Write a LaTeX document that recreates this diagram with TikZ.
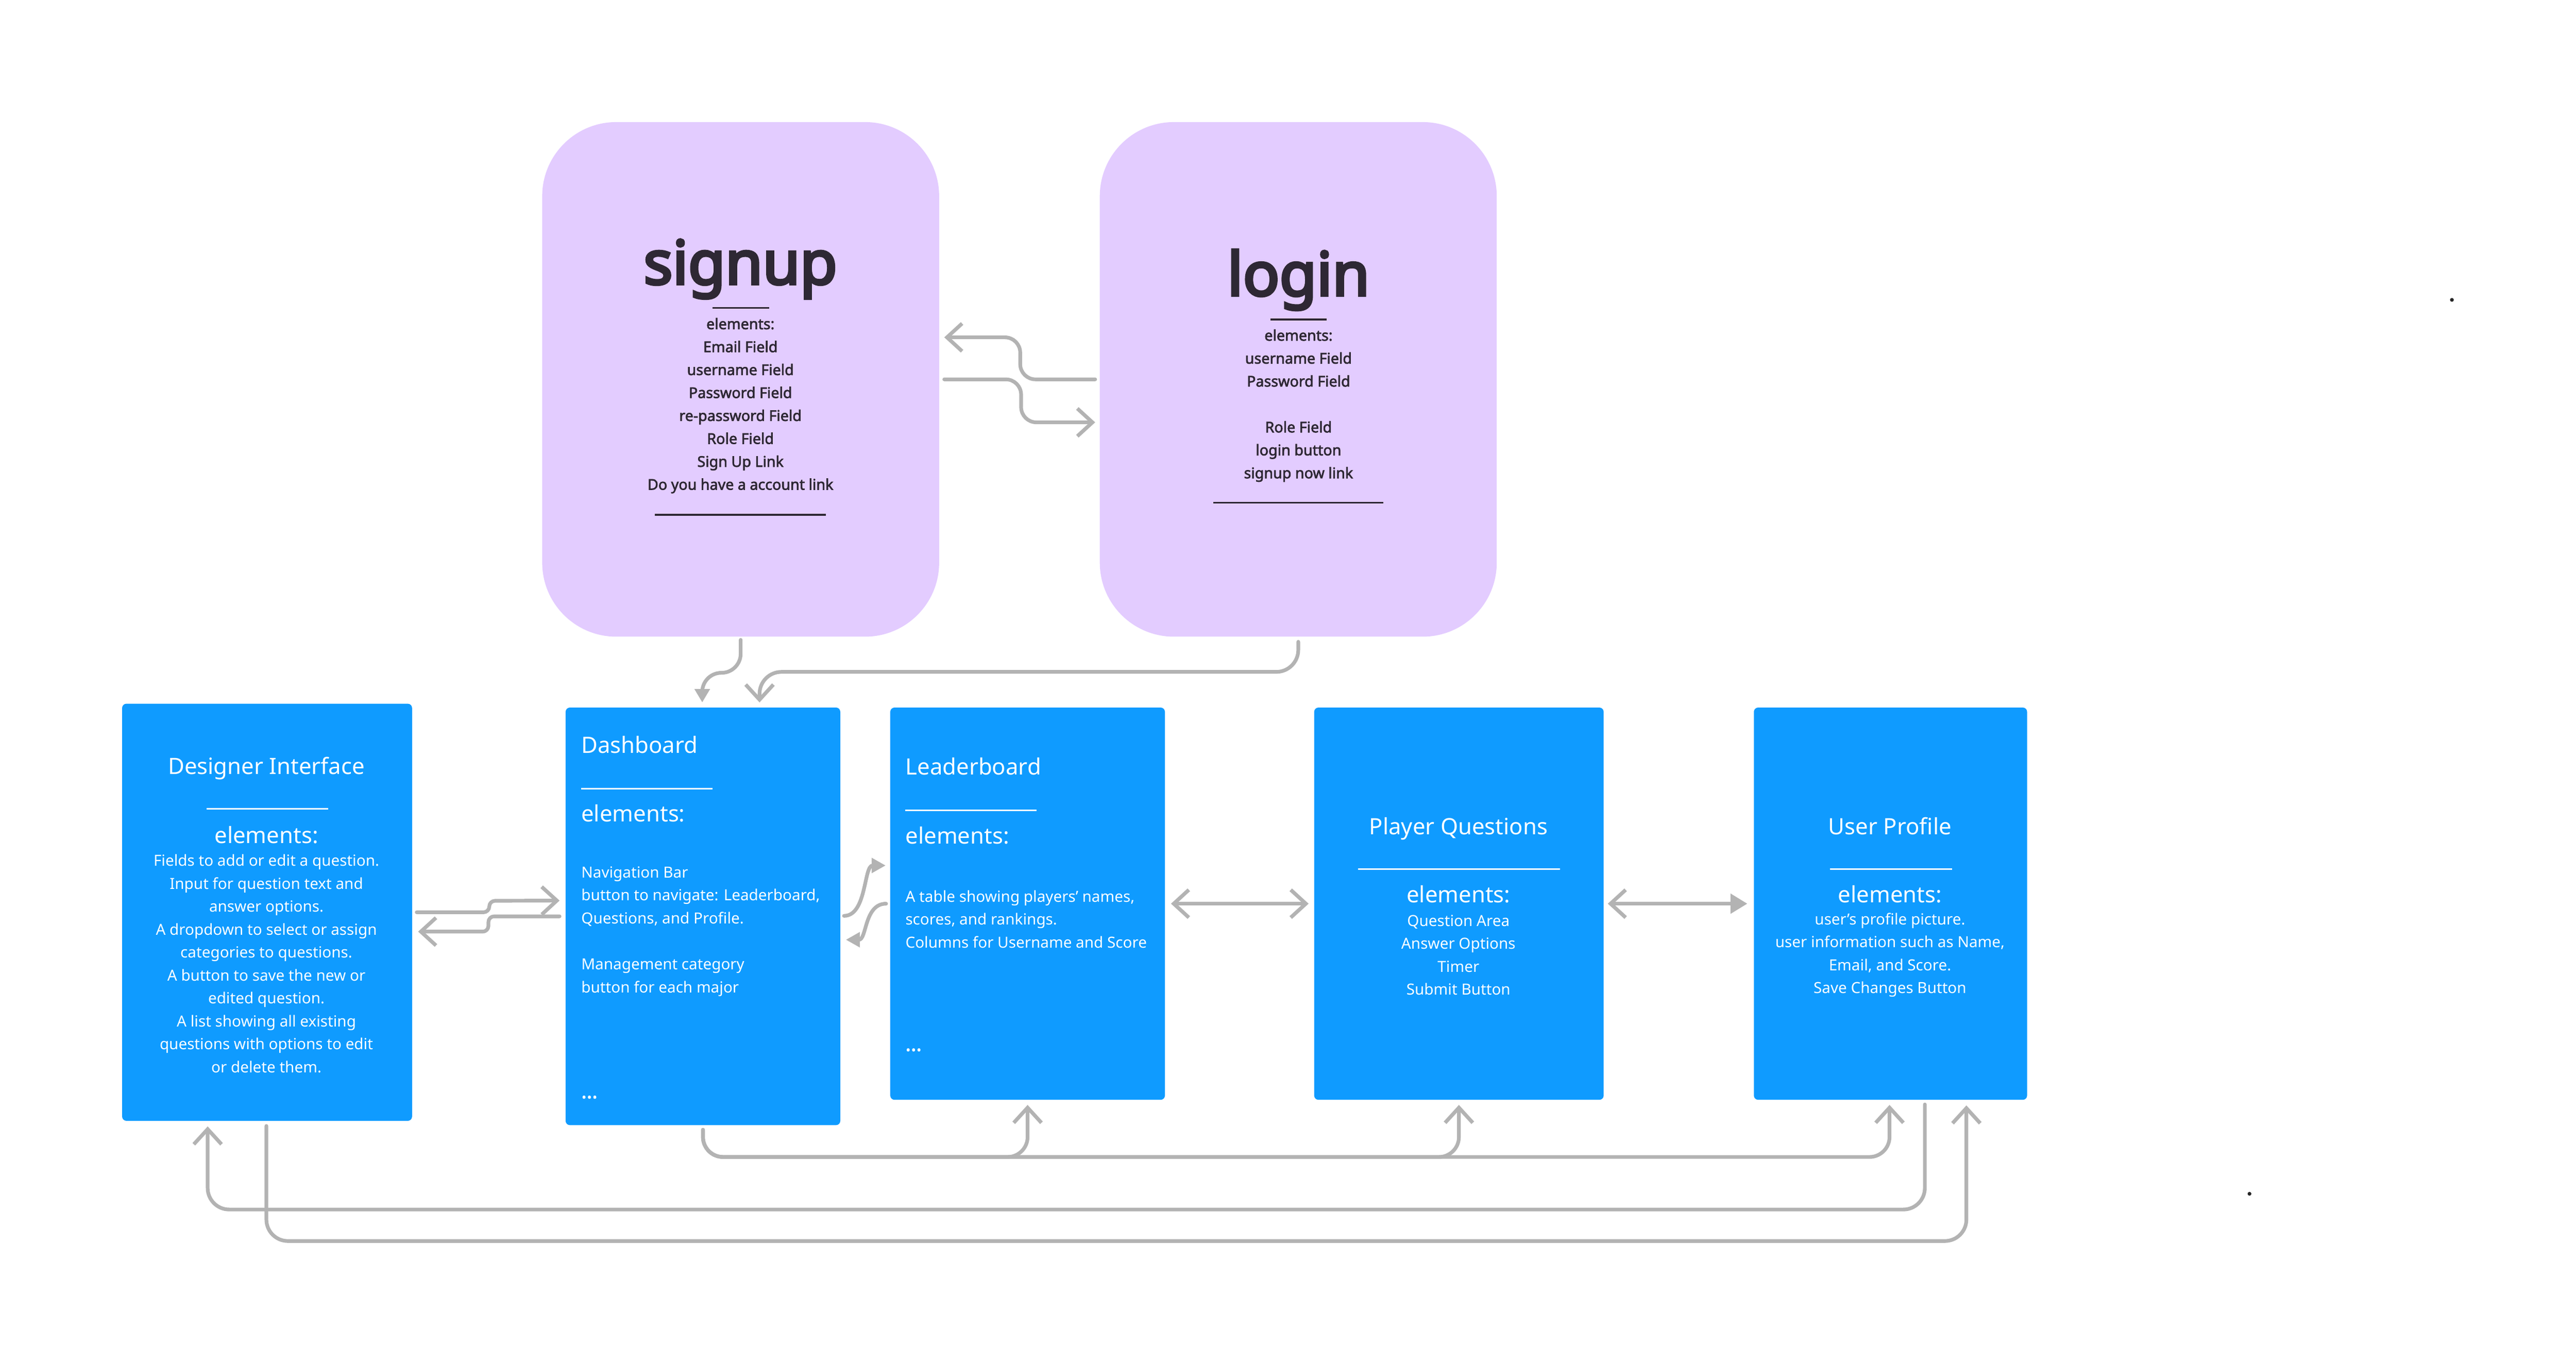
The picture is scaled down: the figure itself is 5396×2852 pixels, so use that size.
\documentclass[tikz,border=0pt]{standalone}
\usepackage{fontspec}
\setmainfont{Noto Sans}
\newfontfamily\heavyfont{Noto Sans}[FakeBold=4.5]
\newfontfamily\semifont{Noto Sans}[FakeBold=2.6]
\usepackage{xcolor}
\usepackage{tikz}
\usetikzlibrary{arrows.meta,positioning,calc}

\definecolor{lilac}{RGB}{227,204,255}
\definecolor{skyblue}{RGB}{15,155,255}
\definecolor{ink}{RGB}{46,40,52}
\definecolor{wiregray}{RGB}{179,179,179}

\begin{document}
\begin{tikzpicture}[
  x=0.01cm, y=-0.01cm,
  authbox/.style={fill=lilac, rounded corners=1.55cm, minimum width=8.31cm, minimum height=10.77cm, inner sep=0pt},
  pagebox/.style={fill=skyblue, rounded corners=0.9mm, inner sep=0pt},
  bigtitle/.style={font=\heavyfont\fontsize{36}{44}\selectfont, text=ink, anchor=base, inner sep=0pt},
  authlist/.style={font=\semifont\fontsize{8.8}{13.66}\selectfont, text=ink, align=center, inner sep=0pt},
  pagetitle/.style={font=\fontsize{13.4}{16}\selectfont, text=white, inner sep=0pt},
  pagelist/.style={font=\fontsize{9.1}{13.66}\selectfont, text=white, inner sep=0pt},
  darksep/.style={draw=ink, line width=1pt},
  whitesep/.style={draw=white, line width=1pt},
  link/.style={draw=wiregray, line width=2.2pt, line cap=round, line join=round},
  barb/.style={-{Straight Barb[length=9pt,width=16.5pt]}},
  tri/.style={-{Triangle[length=8.3pt,width=8.6pt]}}
]
\useasboundingbox (0,0) rectangle (5396,2852);

% Top: auth screens
\node[authbox] (signup) at (1551.5,794.5) {};
\node[authbox] (login) at (2719.5,794.5) {};

\node[bigtitle] (signuptitle) at (1551,595) {signup};
\draw[darksep] (1492,645) -- (1611,645);
\node[authlist] (signuplist) at (1551,849.5) {elements:\\Email Field\\username Field\\Password Field\\re-password Field\\Role Field\\Sign Up Link\\Do you have a account link};
\draw[darksep] (1372,1078) -- (1730,1078);

\node[bigtitle] (logintitle) at (2720,619) {login};
\draw[darksep] (2661,669) -- (2779,669);
\node[authlist] (loginlist) at (2720,849.5) {elements:\\username Field\\Password Field\\[13.66pt]Role Field\\login button\\signup now link};
\draw[darksep] (2542,1053) -- (2898,1053);

% Bottom row: pages
\node[pagebox, minimum width=6.07cm, minimum height=8.73cm] (designer) at (559.5,1910.5) {};
\node[pagebox, minimum width=5.75cm, minimum height=8.74cm] (dash) at (1472.5,1919) {};
\node[pagebox, minimum width=5.75cm, minimum height=8.21cm] (leader) at (2152.5,1892.5) {};
\node[pagebox, minimum width=6.06cm, minimum height=8.21cm] (playq) at (3056,1892.5) {};
\node[pagebox, minimum width=5.72cm, minimum height=8.21cm] (profile) at (3960,1892.5) {};

% Designer Interface
\node[pagetitle, anchor=base] (designertitle) at (558,1622) {Designer Interface};
\draw[whitesep] (433,1694) -- (687,1694);
\node[pagetitle, anchor=base] (designerel) at (558,1766) {elements:};
\node[pagelist, align=center] (designerlist) at (558,2018) {Fields to add or edit a question.\\Input for question text and\\answer options.\\A dropdown to select or assign\\categories to questions.\\A button to save the new or\\edited question.\\A list showing all existing\\questions with options to edit\\or delete them.};

% Dashboard
\node[pagetitle, anchor=base west] (dashtitle) at (1217,1577) {Dashboard};
\draw[whitesep] (1217,1652) -- (1493,1652);
\node[pagetitle, anchor=base west] (dashel) at (1217,1721) {elements:};
\node[pagelist, align=left, anchor=west] (dashlist) at (1217,1950.5) {Navigation Bar\\button to navigate: Leaderboard,\\Questions, and Profile.\\[13.66pt]Management category\\button for each major};
\node[pagelist, anchor=base west, font=\semifont\fontsize{12}{13.66}\selectfont] (dashmore) at (1217,2300) {...};

% Leaderboard
\node[pagetitle, anchor=base west] (leadertitle) at (1896,1623) {Leaderboard};
\draw[whitesep] (1896,1697) -- (2171,1697);
\node[pagetitle, anchor=base west] (leaderel) at (1896,1767) {elements:};
\node[pagelist, align=left, anchor=west] (leaderlist) at (1896,1925) {A table showing players' names,\\scores, and rankings.\\Columns for Username and Score};
\node[pagelist, anchor=base west, font=\semifont\fontsize{12}{13.66}\selectfont] (leadermore) at (1896,2201) {...};

% Player Questions
\node[pagetitle, anchor=base] (playqtitle) at (3055,1748) {Player Questions};
\draw[whitesep] (2845,1820) -- (3268,1820);
\node[pagetitle, anchor=base] (playqel) at (3055,1890) {elements:};
\node[pagelist, align=center] (playqlist) at (3055,2000) {Question Area\\Answer Options\\Timer\\Submit Button};

% User Profile
\node[pagetitle, anchor=base] (profiletitle) at (3959,1748) {User Profile};
\draw[whitesep] (3833,1820) -- (4089,1820);
\node[pagetitle, anchor=base] (profileel) at (3959,1890) {elements:};
\node[pagelist, align=center] (profilelist) at (3959,2000) {user's profile picture.\\user information such as Name,\\Email, and Score.\\Save Changes Button};

% signup <-> login
\draw[link, barb, rounded corners=3.2mm] ($(login.west)+(-9,0)$) -- ++(-157,0) -- ++(0,-88) -- ($(signup.east)+(10,-88)$);
\draw[link, barb, rounded corners=3.2mm] ($(signup.east)+(10,0)$) -- ++(161,0) -- ++(0,90) -- ($(login.west)+(-9,90)$);

% into Dashboard
\draw[link, -{Triangle[length=8pt,width=8.8pt]}, rounded corners=4mm] ($(signup.south)+(0,6)$) -- ++(0,69) -| ($(dash.north)+(-1.5,-10)$);
\draw[link, barb, rounded corners=4.6mm] ($(login.south)+(0,10)$) |- ($(dash.north)+(118.5,-74)$) -- ($(dash.north)+(118.5,-10)$);

% Designer <-> Dashboard
\draw[link, barb, rounded corners=1.2mm] ($(designer.east)+(9,0)$) -- ++(152,0) -- ++(0,-24) -- ($(dash.west)+(-12,-33)$);
\draw[link, barb, rounded corners=1.2mm] ($(dash.west)+(-12,0)$) -- ++(-149,0) -- ++(0,32) -- ($(designer.east)+(12,40.5)$);

% Dashboard <-> Leaderboard
\draw[link, tri] ($(dash.east)+(7,-1)$) .. controls +(48,0) and +(-46,0) .. ($(leader.west)+(-9,-80)$);
\draw[link, tri] ($(leader.west)+(-8,0)$) .. controls +(-46,0) and +(44,0) .. ($(dash.east)+(11,49)$);

% Leaderboard <-> Player Questions <-> User Profile
\draw[link, {Straight Barb[length=9pt,width=16.5pt]}-{Straight Barb[length=9pt,width=16.5pt]}] ($(leader.east)+(12,0)$) -- ($(playq.west)+(-11,0)$);
\draw[link, {Straight Barb[length=9pt,width=16.5pt]}-{Triangle[length=10pt,width=11.5pt]}] ($(playq.east)+(8,0)$) -- ($(profile.west)+(-13,0)$);

% Bottom loops
\draw[link, barb, rounded corners=4.2mm] ($(dash.south)+(0,9)$) |- ($(leader.south)+(0,119)$) -- ($(leader.south)+(0,10)$);
\draw[link, barb, rounded corners=4.2mm] ($(dash.south)+(0,9)$) |- ($(playq.south)+(0,119)$) -- ($(playq.south)+(0,10)$);
\draw[link, barb, rounded corners=4.2mm] ($(dash.south)+(0,9)$) |- ($(profile.south)+(-2,119)$) -- ($(profile.south)+(-2,10)$);
\draw[link, barb, rounded corners=4.5mm] ($(profile.south)+(72,9)$) |- ($(designer.south)+(-124.5,185)$) -- ($(designer.south)+(-124.5,11)$);
\draw[link, barb, rounded corners=4.5mm] ($(designer.south)+(-1.5,10)$) |- ($(profile.south)+(159,295)$) -- ($(profile.south)+(159,11)$);

% stray dots
\fill[black!85] (5136,628) circle (4);
\fill[black!85] (4712,2500) circle (4);

\end{tikzpicture}
\end{document}
